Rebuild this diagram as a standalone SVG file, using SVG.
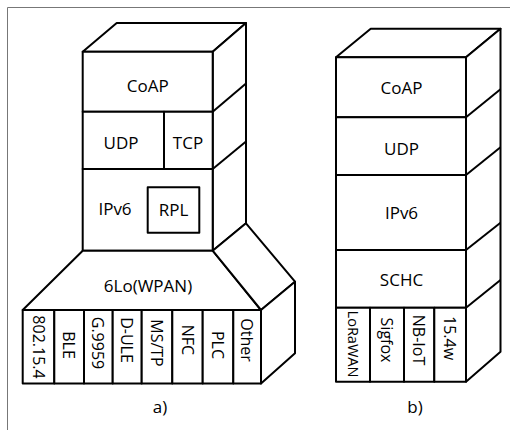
<svg xmlns="http://www.w3.org/2000/svg" width="510" height="430" viewBox="0 0 510 430">
<style>
.s{fill:#fff;stroke:#000;stroke-width:2;stroke-linejoin:round}
.l{fill:none;stroke:#000;stroke-width:2}
.t{font-family:"Open Sans","Noto Sans",sans-serif;font-size:17px;fill:#000;text-anchor:middle}
.v{font-family:"Open Sans","Noto Sans",sans-serif;font-size:16px;fill:#000;text-anchor:middle;dominant-baseline:central}
</style>
<rect width="510" height="430" fill="#fff"/>
<path d="M7.5 430 V7.5 H510" fill="none" stroke="#777" stroke-width="1"/>
<g id="stackA">
 <polygon class="s" points="82.7,51.7 116.7,23 246,23 212.7,51.7"/>
 <polygon class="s" points="212.7,51.7 246,23 246,223.3 212.7,250.7"/>
 <line class="l" x1="212.7" y1="111.7" x2="246" y2="83.5"/>
 <line class="l" x1="212.7" y1="169" x2="246" y2="141.5"/>
 <g id="a-coap"><rect class="s" x="82.7" y="51.7" width="130" height="60"/><text class="t" x="147.7" y="92">CoAP</text></g>
 <g id="a-udp"><rect class="s" x="82.7" y="111.7" width="81.3" height="57.3"/><text class="t" x="121" y="148.5">UDP</text></g>
 <g id="a-tcp"><rect class="s" x="164" y="111.7" width="48.7" height="57.3"/><text class="t" x="188" y="148.5">TCP</text></g>
 <g id="a-ipv6"><rect class="s" x="82.7" y="169" width="130" height="81.7"/><text class="t" x="115" y="215">IPv6</text></g>
 <g id="a-rpl"><rect class="s" x="147.7" y="187.3" width="51.6" height="45.4"/><text class="t" x="173.5" y="216">RPL</text></g>
 <g id="a-6lo"><polygon class="s" points="82.7,250.7 212.7,250.7 261,310 22.7,310"/><text class="t" x="148" y="292">6Lo(WPAN)</text></g>
 <polygon class="s" points="212.7,250.7 246,223.3 295,281.7 261,310"/>
 <polygon class="s" points="261,310 295,281.7 295,353.3 261,383.5"/>
 <g id="a-802"><rect class="s" x="22.7" y="310" width="31.6" height="73.5"/><text class="v" transform="translate(38.5,347) rotate(90)">802.15.4</text></g>
 <g id="a-ble"><rect class="s" x="54.3" y="310" width="29.7" height="73.5"/><text class="v" transform="translate(69.2,345) rotate(90)">BLE</text></g>
 <g id="a-g9959"><rect class="s" x="84" y="310" width="28.7" height="73.5"/><text class="v" transform="translate(98.3,343) rotate(90)">G.9959</text></g>
 <g id="a-dule"><rect class="s" x="112.7" y="310" width="29" height="73.5"/><text class="v" transform="translate(127.2,340) rotate(90)">D-ULE</text></g>
 <g id="a-mstp"><rect class="s" x="141.7" y="310" width="30.6" height="73.5"/><text class="v" transform="translate(157,343) rotate(90)">MS/TP</text></g>
 <g id="a-nfc"><rect class="s" x="172.3" y="310" width="30.4" height="73.5"/><text class="v" transform="translate(187.5,340) rotate(90)">NFC</text></g>
 <g id="a-plc"><rect class="s" x="202.7" y="310" width="30.6" height="73.5"/><text class="v" transform="translate(218,345) rotate(90)">PLC</text></g>
 <g id="a-other"><rect class="s" x="233.3" y="310" width="27.7" height="73.5"/><text class="v" transform="translate(247.2,340) rotate(90)">Other</text></g>
 <text class="t" x="160" y="413">a)</text>
</g>
<g id="stackB">
 <polygon class="s" points="336,57.3 370.7,28.7 500.5,28.7 466,57.3"/>
 <polygon class="s" points="466,57.3 500.5,28.7 500.5,351.7 466,381.7"/>
 <line class="l" x1="466" y1="117.3" x2="500.5" y2="89.3"/>
 <line class="l" x1="466" y1="175" x2="500.5" y2="147.3"/>
 <line class="l" x1="466" y1="250" x2="500.5" y2="222.7"/>
 <line class="l" x1="466" y1="307.7" x2="500.5" y2="280"/>
 <g id="b-coap"><rect class="s" x="336" y="57.3" width="130" height="60"/><text class="t" x="401.5" y="94">CoAP</text></g>
 <g id="b-udp"><rect class="s" x="336" y="117.3" width="130" height="57.7"/><text class="t" x="401.5" y="155">UDP</text></g>
 <g id="b-ipv6"><rect class="s" x="336" y="175" width="130" height="75"/><text class="t" x="401.5" y="219">IPv6</text></g>
 <g id="b-schc"><rect class="s" x="336" y="250" width="130" height="57.7"/><text class="t" x="401.5" y="286">SCHC</text></g>
 <g id="b-lora"><rect class="s" x="336" y="307.7" width="34" height="74"/><text class="v" transform="translate(353,344) rotate(90)" style="font-size:14.5px">LoRaWAN</text></g>
 <g id="b-sigfox"><rect class="s" x="370" y="307.7" width="34" height="74"/><text class="v" transform="translate(387,340) rotate(90)">Sigfox</text></g>
 <g id="b-nbiot"><rect class="s" x="404" y="307.7" width="30.3" height="74"/><text class="v" transform="translate(419.2,340) rotate(90)">NB-IoT</text></g>
 <g id="b-154w"><rect class="s" x="434.3" y="307.7" width="31.7" height="74"/><text class="v" transform="translate(450.2,338) rotate(90)">15.4w</text></g>
 <text class="t" x="415" y="413">b)</text>
</g>
</svg>
